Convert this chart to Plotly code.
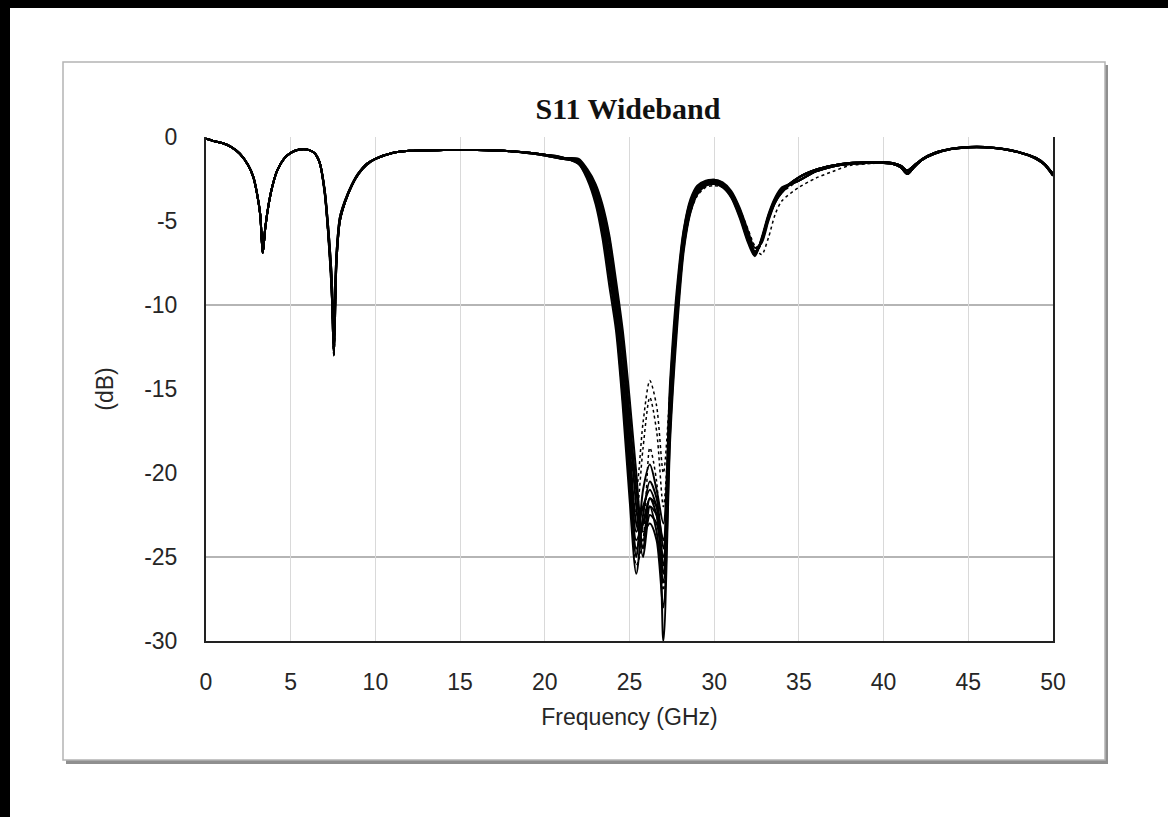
import plotly.graph_objects as go

# ---- data ----
# 0 - 21 GHz : two early resonances
f_low = [0, 0.5, 1, 1.5, 2, 2.5, 2.8, 3.0, 3.2, 3.35, 3.5, 3.7, 3.9, 4.2, 4.6, 5.0, 5.5, 6.0, 6.4, 6.7,
         7.0, 7.2, 7.4, 7.55, 7.7, 7.9, 8.2, 8.6, 9.0, 9.5, 10, 11, 12, 14, 16, 18, 20, 21]
s_low_a = [-0.1, -0.25, -0.37, -0.6, -1.0, -1.7, -2.4, -3.3, -4.6, -6.9, -5.4, -4.0, -3.0, -2.0, -1.3, -0.95, -0.75, -0.75, -0.95, -1.5,
           -3.2, -5.5, -8.5, -13.0, -7.5, -5.0, -3.9, -2.9, -2.2, -1.6, -1.3, -0.95, -0.82, -0.78, -0.78, -0.85, -1.05, -1.25]
s_low_b = [-0.1, -0.25, -0.37, -0.6, -1.0, -1.7, -2.4, -3.3, -4.6, -6.9, -5.4, -4.0, -3.0, -2.0, -1.3, -0.95, -0.75, -0.75, -0.95, -1.5,
           -3.1, -5.2, -8.0, -11.2, -7.0, -4.8, -3.8, -2.85, -2.15, -1.6, -1.3, -0.95, -0.82, -0.78, -0.78, -0.85, -1.1, -1.3]
s_low_c = [-0.1, -0.25, -0.37, -0.6, -1.0, -1.7, -2.4, -3.3, -4.6, -6.9, -5.4, -4.0, -3.0, -2.0, -1.3, -0.95, -0.75, -0.75, -0.95, -1.5,
           -3.3, -5.6, -8.8, -12.0, -7.3, -5.0, -3.9, -2.9, -2.2, -1.65, -1.3, -0.95, -0.82, -0.78, -0.78, -0.85, -1.05, -1.2]

# 22 - 34 GHz : main wideband notch, one list per simulated case
f_mid = [22, 22.5, 23, 23.4, 23.8, 24.2, 24.6, 25.0, 25.4, 25.8, 26.2, 26.6, 27.0, 27.4, 27.8,
         28.2, 28.6, 29.0, 29.5, 30, 30.5, 31, 31.5, 32, 32.4, 32.8, 33.2, 33.6, 34]
t01 = [-1.5, -2.2, -3.4, -5.0, -7.3, -10.0, -14.0, -19.0, -23.5, -22.0, -21.0, -22.0, -24.0, -16.0, -10.0,
       -6.0, -4.0, -3.1, -2.7, -2.6, -2.8, -3.4, -4.5, -6.0, -6.9, -6.2, -4.8, -3.8, -3.2]
t02 = [-1.4, -2.0, -3.0, -4.4, -6.3, -9.0, -12.5, -17.0, -22.0, -25.0, -22.5, -23.0, -25.0, -17.0, -10.5,
       -6.3, -4.2, -3.2, -2.8, -2.65, -2.85, -3.5, -4.6, -6.1, -7.0, -6.1, -4.7, -3.7, -3.1]
t03 = [-1.6, -2.4, -3.8, -5.6, -8.2, -11.0, -15.5, -20.5, -24.5, -23.0, -21.5, -22.5, -26.0, -15.5, -9.5,
       -5.6, -3.8, -3.0, -2.65, -2.55, -2.75, -3.3, -4.3, -5.8, -6.8, -6.2, -4.9, -3.9, -3.3]
t04 = [-1.3, -1.9, -2.8, -4.0, -5.8, -8.5, -11.5, -15.5, -20.0, -23.5, -23.0, -24.0, -28.0, -17.5, -11.0,
       -6.6, -4.4, -3.4, -2.9, -2.8, -3.0, -3.6, -4.8, -6.3, -7.1, -6.0, -4.6, -3.6, -3.0]
t05 = [-1.5, -2.3, -3.6, -5.4, -7.8, -10.5, -15.0, -20.0, -25.0, -21.0, -19.5, -21.0, -23.0, -14.5, -9.0,
       -5.5, -3.7, -2.9, -2.6, -2.55, -2.7, -3.2, -4.2, -5.6, -6.6, -6.3, -5.0, -3.9, -3.3]
t06 = [-1.4, -2.1, -3.2, -4.7, -6.8, -9.5, -13.0, -18.0, -23.0, -24.0, -21.5, -22.0, -30.0, -18.0, -11.5,
       -6.8, -4.5, -3.4, -2.9, -2.75, -2.95, -3.55, -4.7, -6.2, -7.0, -6.1, -4.7, -3.7, -3.1]
t07 = [-1.6, -2.5, -4.0, -6.0, -8.8, -11.5, -16.0, -21.5, -26.0, -22.5, -20.5, -21.5, -24.5, -15.0, -9.5,
       -5.8, -3.9, -3.0, -2.7, -2.6, -2.8, -3.4, -4.5, -6.0, -6.9, -6.2, -4.8, -3.8, -3.2]
t08 = [-1.35, -2.0, -2.9, -4.2, -6.0, -9.0, -12.0, -16.5, -21.0, -24.5, -22.0, -23.5, -26.5, -16.5, -10.5,
       -6.2, -4.1, -3.2, -2.8, -2.7, -2.9, -3.5, -4.6, -6.1, -7.0, -6.1, -4.7, -3.7, -3.1]
t09 = [-1.5, -2.2, -3.5, -5.2, -7.5, -10.0, -14.5, -19.5, -24.0, -23.0, -22.0, -22.5, -25.5, -16.0, -10.0,
       -6.0, -4.0, -3.1, -2.7, -2.6, -2.8, -3.4, -4.5, -6.0, -6.9, -6.2, -4.8, -3.8, -3.2]
d01 = [-1.45, -2.1, -3.3, -4.8, -7.0, -9.5, -13.0, -18.0, -21.0, -17.0, -14.5, -16.0, -20.0, -15.0, -10.0,
       -6.5, -4.5, -3.5, -3.0, -2.9, -3.0, -3.4, -4.3, -5.5, -6.5, -7.0, -6.0, -4.6, -3.8]
d02 = [-1.5, -2.2, -3.4, -5.0, -7.2, -10.0, -14.0, -19.0, -22.5, -18.5, -15.5, -17.5, -22.0, -16.0, -10.5,
       -6.4, -4.3, -3.3, -2.85, -2.75, -2.9, -3.5, -4.6, -6.1, -7.0, -6.3, -4.9, -3.9, -3.3]
d03 = [-1.55, -2.3, -3.6, -5.3, -7.7, -10.5, -15.0, -20.0, -25.5, -24.0, -18.5, -20.5, -27.0, -17.0, -11.0,
       -6.6, -4.4, -3.3, -2.85, -2.75, -2.9, -3.5, -4.6, -6.1, -7.0, -6.2, -4.8, -3.8, -3.2]

# 35 - 50 GHz
f_high = [35, 36, 37, 38, 39, 40, 40.5, 41, 41.4, 41.8, 42.3, 43, 44, 45, 46, 47, 48, 48.5, 49, 49.5, 50]
h_a = [-2.4, -1.95, -1.7, -1.55, -1.5, -1.5, -1.55, -1.7, -2.0, -1.7, -1.3, -0.95, -0.7, -0.6, -0.6, -0.7, -0.9, -1.05, -1.25, -1.6, -2.2]
h_b = [-2.6, -2.05, -1.75, -1.6, -1.55, -1.55, -1.6, -1.8, -2.2, -1.8, -1.35, -1.0, -0.72, -0.62, -0.62, -0.72, -0.92, -1.08, -1.3, -1.65, -2.3]
h_c = [-3.0, -2.45, -2.05, -1.7, -1.6, -1.55, -1.6, -1.75, -2.1, -1.75, -1.35, -1.0, -0.72, -0.62, -0.62, -0.72, -0.92, -1.08, -1.3, -1.65, -2.3]

x_ticks = [0, 5, 10, 15, 20, 25, 30, 35, 40, 45, 50]
y_ticks = [0, -5, -10, -15, -20, -25, -30]
y_tick_text = ['0', '-5', '-10', '-15', '-20', '-25', '-30']
ref_lines_db = [-10, -25]

# (low band, notch, high band, dotted?)
cases = [
    (s_low_a, t01, h_a, False), (s_low_b, t02, h_b, False), (s_low_c, t03, h_a, False),
    (s_low_a, t04, h_b, False), (s_low_b, t05, h_a, False), (s_low_a, t06, h_b, False),
    (s_low_c, t07, h_a, False), (s_low_a, t08, h_b, False), (s_low_b, t09, h_a, False),
    (s_low_a, d01, h_c, True), (s_low_c, d02, h_b, True), (s_low_a, d03, h_a, True),
]

# ---- figure geometry (pixels) ----
W, H = 1168, 817
L, R, T, B = 206, 1053, 137, 641


def px(x):
    return (x - L) / (R - L)


def py(y):
    return (B - y) / (B - T)


freq = f_low + f_mid + f_high

fig = go.Figure()

for low, mid, high, dotted in cases:
    fig.add_trace(go.Scatter(
        x=freq, y=low + mid + high, mode='lines',
        line=dict(color='black', width=1.5 if dotted else 2,
                  dash='dot' if dotted else 'solid', shape='spline', smoothing=0.8),
        showlegend=False, hoverinfo='skip'))

# frame, card and shadow
shapes = [
    dict(type='rect', xref='paper', yref='paper', x0=px(0), x1=px(10), y0=py(H), y1=py(0),
         fillcolor='black', line_width=0, layer='below'),
    dict(type='rect', xref='paper', yref='paper', x0=px(0), x1=px(W), y0=py(8), y1=py(0),
         fillcolor='black', line_width=0, layer='below'),
    dict(type='rect', xref='paper', yref='paper', x0=px(66), x1=px(1108), y0=py(764), y1=py(65),
         fillcolor='#8f8f8f', line_width=0, layer='below'),
    dict(type='rect', xref='paper', yref='paper', x0=px(63), x1=px(1105), y0=py(760), y1=py(62),
         fillcolor='white', line=dict(color='#b4b4b4', width=1.5), layer='below'),
]
fig.update_layout(shapes=shapes)

for v in ref_lines_db:
    fig.add_hline(y=v, line=dict(color='#9c9c9c', width=1.5), layer='below')

axis_font = dict(family='Liberation Sans, Arial, sans-serif', size=23, color='#262626')

fig.update_layout(
    width=W, height=H,
    margin=dict(l=L, r=W - R, t=T, b=H - B),
    paper_bgcolor='white', plot_bgcolor='rgba(0,0,0,0)',
    title=dict(text='S11 Wideband', x=px(628), xanchor='center', xref='paper',
               y=1 - 108 / H, yanchor='middle', yref='container',
               font=dict(family='Liberation Serif, Times New Roman, serif', size=30,
                         color='#111', weight='bold')),
    xaxis=dict(range=[0, 50], tickvals=x_ticks, showgrid=True, gridcolor='#d9d9d9', gridwidth=1,
               zeroline=False, showline=True, linecolor='#222', linewidth=2, ticks='',
               ticklabelstandoff=19, tickfont=axis_font,
               title=dict(text='Frequency (GHz)', font=axis_font, standoff=15)),
    yaxis=dict(range=[-30, 0], tickvals=y_ticks, ticktext=y_tick_text, showgrid=False, zeroline=False,
               showline=True, mirror=True, linecolor='#222', linewidth=2, ticks='',
               ticklabelstandoff=22, tickfont=axis_font,
               title=dict(text='(dB)', font=axis_font, standoff=24)),
)

fig.write_html("out.html", config={'displayModeBar': False},
               post_script="document.body.style.margin='0';")
